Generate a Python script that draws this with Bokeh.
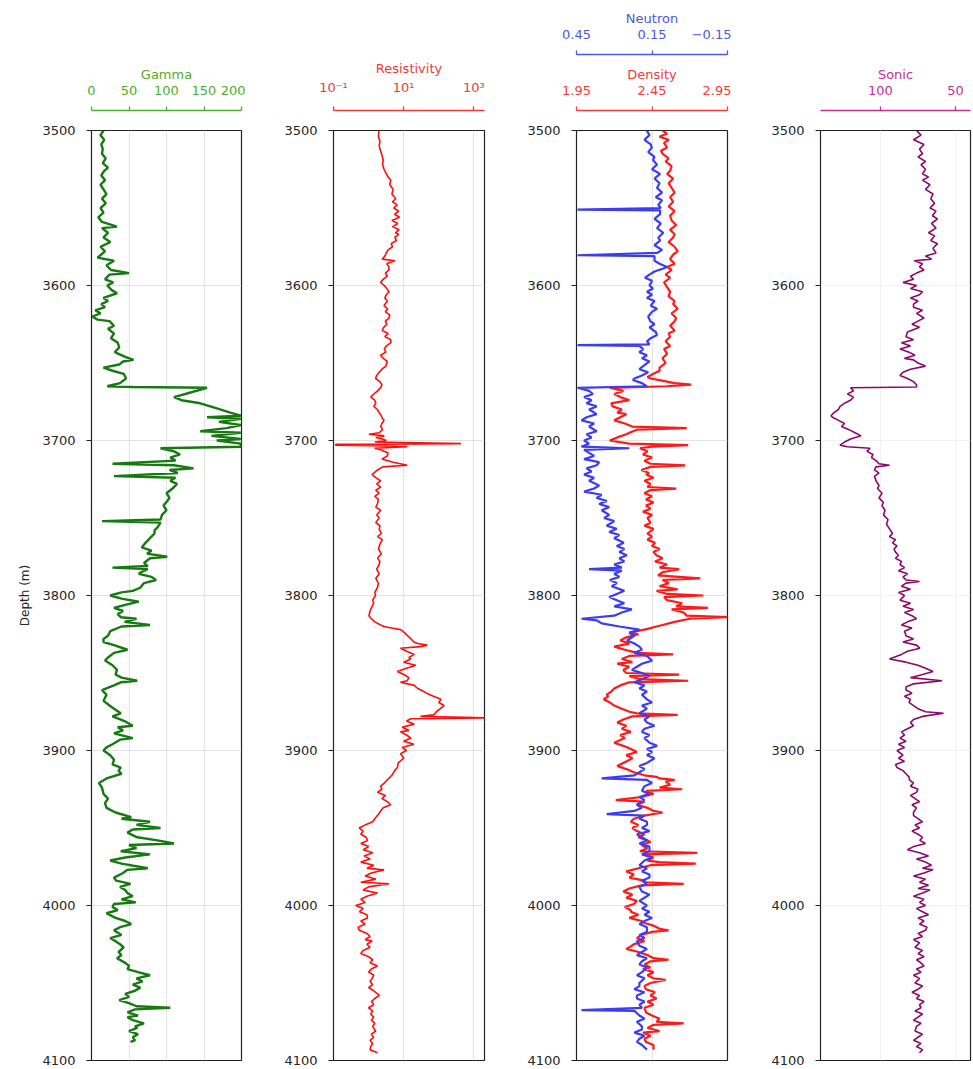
from bokeh.plotting import figure
from bokeh.layouts import row
from bokeh.models import Range1d, LinearAxis, LogAxis, FixedTicker, CustomJSTickFormatter
from bokeh.embed import file_html
from bokeh.resources import INLINE

# ---------------- data (depth m, value) ----------------
GAMMA = [
(3500,16),(3503,12),(3506,17),(3509,13),(3512,15),(3515,14),(3518,19),(3521,15),(3524,22),(3526,17),
(3529,13),(3532,18),(3535,12),(3538,16),(3541,20),(3544,14),(3547,19),(3550,12),(3553,16),(3556,9),
(3559,14),(3562,34),(3563,14),(3566,22),(3569,16),(3572,25),(3575,12),(3578,18),(3580,13),(3582,8),
(3584,30),(3587,20),(3590,26),(3592,50),(3593,24),(3596,18),(3598,29),(3600,21),(3603,27),(3605,34),
(3608,16),(3610,22),(3612,13),(3614,18),(3616,5),(3618,12),(3620,1),(3622,8),(3623,24),(3626,30),
(3628,22),(3631,30),(3634,26),(3637,35),(3640,37),(3643,31),(3646,45),(3648,56),(3649,42),(3651,37),
(3653,16),(3655,28),(3657,43),(3660,46),(3663,38),(3665,21),(3665.5,56),(3666,154),(3670,125),(3672,110),
(3674,120),(3676,145),(3679,165),(3682,185),(3684,199),(3685,154),(3686,199),(3688,170),(3690,199),(3692,180),
(3694,145),(3695,199),(3697,160),(3699,199),(3700,167),(3702,199),(3704,199),(3705,92),(3707,110),(3709,118),
(3711,105),(3713,112),(3715,28),(3716,110),(3718,136),(3719,104),(3721,115),(3723,30),(3724,112),(3726,105),
(3728,114),(3731,108),(3734,100),(3737,104),(3739,101),(3742,96),(3745,100),(3748,94),(3751,92),(3752,14),
(3753,92),(3756,88),(3758,84),(3760,84),(3763,78),(3766,72),(3769,67),(3771,80),(3773,74),(3775,101),
(3776,78),(3779,70),(3781,75),(3782,28),(3783,75),(3785,66),(3786,63),(3788,80),(3790,86),(3792,70),
(3795,65),(3797,55),(3798,40),(3800,25),(3802,40),(3804,63),(3806,45),(3808,30),(3810,42),(3812,35),
(3814,39),(3815,60),(3817,44),(3819,78),(3820,40),(3823,25),(3826,22),(3828,16),(3830,16),(3832,30),
(3835,48),(3837,30),(3840,22),(3842,18),(3845,28),(3848,34),(3851,32),(3853,40),(3855,61),(3856,39),
(3858,30),(3861,14),(3864,20),(3866,18),(3868,16),(3871,24),(3873,30),(3876,39),(3878,28),(3881,44),
(3884,55),(3885,35),(3887,42),(3889,30),(3892,55),(3893,38),(3896,28),(3898,20),(3900,16),(3903,25),
(3906,30),(3909,28),(3911,39),(3913,36),(3915,40),(3918,20),(3921,10),(3924,14),(3928,16),(3931,22),
(3934,18),(3937,20),(3940,32),(3943,53),(3944,40),(3946,78),(3948,60),(3950,92),(3951,55),(3953,48),
(3956,61),(3958,88),(3960,110),(3961,50),(3963,60),(3965,39),(3967,78),(3969,45),(3971,25),(3973,40),
(3976,75),(3977,48),(3979,42),(3982,30),(3984,33),(3986,52),(3988,38),(3990,45),(3992,48),(3994,55),
(3996,40),(3998,59),(3999,30),(4001,28),(4003,35),(4005,20),(4008,32),(4010,45),(4012,53),(4014,38),
(4016,30),(4019,40),(4021,25),(4023,32),(4025,38),(4027,43),(4030,36),(4032,40),(4034,34),(4037,45),
(4039,50),(4041,48),(4043,62),(4045,78),(4047,60),(4049,68),(4051,55),(4053,65),(4055,58),(4057,45),
(4059,50),(4061,37),(4063,50),(4065,60),(4066,105),(4067,58),(4069,48),(4071,62),(4072,48),(4074,55),
(4076,70),(4078,58),(4079,61),(4081,50),(4083,62),(4085,55),(4087,58),(4088,52),
]

RESISTIVITY = [
(3500,1.97),(3504,1.9),(3507,2.1),(3510,2.0),(3513,2.19),(3516,2.4),(3519,2.6),(3522,2.5),(3525,2.75),(3528,3.2),
(3530,3.6),(3532,4.27),(3535,4.0),(3538,5.0),(3541,4.6),(3544,5.9),(3546,4.8),(3548,6.5),(3550,5.2),(3552,7.2),
(3554,5.5),(3556,7.6),(3558,4.6),(3560,6.8),(3562,4.8),(3564,7.4),(3566,5.8),(3567,7.2),(3569,5.6),(3571,6.2),
(3573,4.4),(3575,4.8),(3577,3.6),(3579,3.2),(3581,2.9),(3583,2.45),(3584,5.6),(3586,3.3),(3588,3.8),(3590,3.8),
(3592,3.0),(3594,3.4),(3596,2.6),(3598,2.19),(3600,2.8),(3602,3.3),(3604,3.8),(3606,3.2),(3608,2.9),(3610,3.4),
(3613,2.75),(3615,3.5),(3617,3.0),(3619,4.0),(3621,3.8),(3623,3.0),(3625,3.3),(3627,2.7),(3629,2.45),(3631,3.6),
(3633,2.9),(3635,4.3),(3637,4.27),(3639,3.2),(3641,2.8),(3643,3.1),(3645,2.19),(3647,2.6),(3649,3.4),(3652,3.1),
(3654,2.4),(3656,2.0),(3658,1.7),(3660,1.58),(3662,2.1),(3664,2.4),(3666,2.19),(3668,1.8),(3670,1.4),(3672,1.15),
(3674,1.5),(3676,1.6),(3678,1.4),(3680,1.78),(3682,2.0),(3684,2.3),(3686,2.5),(3687,2.75),(3689,2.4),(3691,2.2),
(3693,2.5),(3695,2.0),(3696,1.02),(3697,2.8),(3698,1.6),(3699,2.45),(3700,3.2),(3701,1.5),(3702,427),(3702.5,0.115),
(3703,0.115),(3703.5,3.0),(3704,12.6),(3705,1.5),(3706,2.2),(3708,3.6),(3710,3.4),(3712,2.4),(3714,5.0),(3716,12.6),
(3717,2.5),(3719,1.8),(3721,1.4),(3722,1.26),(3724,1.6),(3726,2.2),(3728,1.7),(3730,2.19),(3732,1.6),(3734,2.0),
(3736,1.5),(3738,1.9),(3741,1.78),(3743,1.6),(3745,2.2),(3748,1.7),(3750,2.0),(3753,1.6),(3755,2.1),(3757,2.0),
(3760,2.3),(3762,1.8),(3764,2.45),(3767,2.1),(3770,1.9),(3773,2.3),(3776,1.8),(3778,2.1),(3780,2.0),(3783,1.7),
(3786,2.0),(3789,1.6),(3792,1.9),(3795,1.78),(3798,1.5),(3800,1.58),(3803,1.3),(3805,1.4),(3808,1.2),(3810,1.1),
(3813,1.02),(3815,1.2),(3817,1.5),(3819,2.2),(3820,2.75),(3821,4.5),(3822,8.1),(3824,10.5),(3826,13),(3828,16),
(3830,19.5),(3831,25),(3832,46.8),(3833,30),(3834,8.1),(3836,12),(3838,20),(3840,14),(3841,15.8),(3843,10),
(3845,22),(3847,12),(3849,6.6),(3851,10),(3853,14),(3855,12.6),(3856,8.1),(3858,20),(3860,25),(3861,31),
(3863,45),(3865,70),(3867,115),(3869,100),(3871,141),(3873,110),(3875,85),(3877,72),(3878,30),(3879,2500),
(3879.5,15.8),(3881,12),(3883,20),(3885,9),(3887,14),(3888,8.1),(3890,12),(3892,16),(3894,10),(3896,19.5),
(3898,9),(3900,12),(3902,8.1),(3905,10),(3908,7),(3911,6.6),(3913,5.5),(3916,4.6),(3919,3.4),(3921,2.8),
(3923,2.2),(3925,2.4),(3927,1.78),(3929,3.0),(3931,2.4),(3933,3.4),(3935,4.27),(3937,2.6),(3939,2.2),(3942,1.78),
(3944,1.5),(3946,1.3),(3948,0.8),(3950,0.54),(3952,0.7),(3954,0.6),(3956,0.85),(3958,0.93),(3960,0.6),(3962,1.0),
(3964,0.7),(3966,1.3),(3968,0.74),(3970,1.1),(3972,0.6),(3974,1.4),(3976,0.9),(3977,2.75),(3979,1.2),(3981,0.8),
(3983,1.6),(3985,0.6),(3986,3.8),(3988,1.0),(3990,0.7),(3992,1.78),(3994,0.9),(3996,0.6),(3998,0.8),(4000,0.43),
(4002,0.7),(4004,0.55),(4006,0.9),(4008,0.93),(4010,0.6),(4012,0.8),(4014,0.5),(4016,0.54),(4018,0.9),(4020,1.1),
(4022,0.8),(4023,1.26),(4025,0.9),(4027,1.1),(4029,0.7),(4031,0.6),(4033,1.0),(4035,1.3),(4037,1.1),(4039,1.78),
(4041,1.2),(4043,1.0),(4045,1.4),(4047,1.26),(4049,1.1),(4051,1.3),(4053,1.0),(4055,1.4),(4058,2.0),(4060,1.5),
(4062,1.2),(4064,1.4),(4066,1.0),(4068,1.3),(4070,1.15),(4072,1.4),(4074,1.2),(4076,1.5),(4078,1.3),(4081,1.58),
(4083,1.2),(4085,1.4),(4087,1.1),(4089,1.3),(4091,1.15),(4093,1.1),(4095,1.78),
]

DENSITY = [
(3500,2.52),(3502,2.55),(3504,2.50),(3506,2.56),(3508,2.53),(3511,2.55),(3513,2.51),(3515,2.52),(3518,2.56),(3520,2.54),
(3523,2.58),(3526,2.57),(3528,2.55),(3531,2.59),(3534,2.56),(3537,2.58),(3540,2.60),(3543,2.57),(3546,2.59),(3549,2.56),
(3552,2.60),(3555,2.57),(3558,2.58),(3561,2.61),(3564,2.57),(3567,2.60),(3569,2.59),(3572,2.56),(3575,2.60),(3578,2.62),
(3580,2.59),(3583,2.57),(3586,2.60),(3588,2.55),(3590,2.58),(3593,2.54),(3595,2.57),(3598,2.53),(3601,2.55),(3604,2.57),
(3607,2.56),(3610,2.60),(3612,2.59),(3615,2.62),(3618,2.58),(3621,2.61),(3623,2.60),(3626,2.57),(3629,2.60),(3631,2.56),
(3633,2.57),(3636,2.54),(3639,2.57),(3641,2.53),(3644,2.55),(3647,2.52),(3650,2.54),(3653,2.50),(3655,2.50),(3657,2.46),
(3659,2.42),(3660,2.44),(3661,2.50),(3663,2.60),(3664,2.71),(3665,2.55),(3666,2.17),(3668,2.26),(3670,2.20),(3672,2.24),
(3674,2.30),(3676,2.18),(3678,2.19),(3680,2.25),(3682,2.22),(3683,2.28),(3685,2.24),(3687,2.20),(3689,2.27),(3691,2.32),
(3692,2.68),(3693,2.35),(3695,2.30),(3696,2.28),(3698,2.22),(3700,2.17),(3702,2.30),(3703,2.69),(3704,2.45),(3705,2.37),
(3707,2.42),(3709,2.39),(3711,2.45),(3713,2.40),(3715,2.44),(3716,2.67),(3717,2.44),(3719,2.38),(3721,2.43),(3722,2.41),
(3724,2.46),(3726,2.40),(3728,2.44),(3730,2.42),(3731,2.61),(3732,2.44),(3734,2.40),(3736,2.45),(3738,2.41),(3740,2.46),
(3742,2.41),(3744,2.44),(3746,2.39),(3748,2.45),(3750,2.42),(3753,2.44),(3755,2.40),(3757,2.46),(3760,2.42),(3762,2.45),
(3764,2.42),(3766,2.47),(3768,2.45),(3770,2.50),(3772,2.46),(3774,2.48),(3776,2.52),(3778,2.47),(3780,2.55),(3782,2.50),
(3783,2.63),(3785,2.52),(3787,2.49),(3789,2.77),(3790,2.52),(3792,2.56),(3794,2.50),(3796,2.62),(3797,2.48),(3799,2.55),
(3800,2.79),(3801,2.53),(3803,2.55),(3805,2.65),(3807,2.61),(3808,2.82),(3809,2.58),(3811,2.66),(3813,2.68),(3814,2.95),
(3815,2.70),(3817,2.60),(3819,2.52),(3820,2.48),(3822,2.40),(3824,2.30),(3825,2.36),(3827,2.28),(3829,2.24),(3831,2.30),
(3833,2.20),(3835,2.27),(3837,2.35),(3838,2.59),(3839,2.30),(3841,2.25),(3843,2.32),(3844,2.22),(3846,2.30),(3848,2.26),
(3850,2.28),(3851,2.63),(3852,2.30),(3854,2.37),(3855,2.69),(3856,2.30),(3858,2.24),(3860,2.20),(3862,2.18),(3864,2.15),
(3865,2.16),(3867,2.13),(3869,2.17),(3871,2.20),(3873,2.25),(3875,2.30),(3876,2.35),(3877,2.62),(3878,2.32),(3880,2.26),
(3882,2.22),(3884,2.28),(3886,2.25),(3888,2.31),(3890,2.24),(3892,2.27),(3895,2.20),(3897,2.26),(3899,2.31),(3901,2.35),
(3903,2.28),(3905,2.32),(3908,2.26),(3910,2.22),(3912,2.28),(3914,2.33),(3916,2.40),(3917,2.48),(3918,2.50),(3919,2.60),
(3920,2.54),(3922,2.57),(3924,2.50),(3925,2.65),(3926,2.41),(3928,2.46),(3930,2.38),(3932,2.21),(3933,2.40),(3935,2.35),
(3937,2.42),(3939,2.46),(3940,2.52),(3942,2.40),(3944,2.33),(3946,2.31),(3948,2.36),(3950,2.32),(3952,2.35),(3954,2.40),
(3956,2.36),(3958,2.42),(3959,2.44),(3961,2.38),(3963,2.42),(3965,2.37),(3966,2.75),(3967,2.40),(3969,2.46),(3971,2.42),
(3972,2.50),(3973,2.74),(3974,2.44),(3976,2.36),(3978,2.28),(3980,2.33),(3982,2.30),(3984,2.40),(3985,2.41),(3986,2.66),
(3987,2.38),(3989,2.30),(3991,2.26),(3993,2.32),(3995,2.28),(3997,2.35),(3999,2.33),(4001,2.27),(4003,2.31),(4004,2.31),
(4006,2.36),(4008,2.30),(4010,2.38),(4011,2.39),(4013,2.46),(4015,2.50),(4016,2.56),(4017,2.45),(4019,2.38),(4021,2.35),
(4023,2.40),(4025,2.33),(4027,2.30),(4028,2.28),(4030,2.36),(4032,2.42),(4034,2.46),(4035,2.56),(4036,2.44),(4038,2.40),
(4040,2.44),(4041,2.39),(4043,2.46),(4045,2.42),(4047,2.46),(4048,2.54),(4050,2.44),(4052,2.40),(4054,2.41),(4056,2.47),
(4058,2.44),(4060,2.48),(4062,2.42),(4064,2.46),(4066,2.40),(4069,2.41),(4071,2.45),(4073,2.50),(4075,2.48),(4076,2.66),
(4077,2.46),(4079,2.42),(4081,2.50),(4082,2.39),(4084,2.44),(4086,2.40),(4088,2.41),(4090,2.46),(4093,2.46),
]

NEUTRON = [
(3500,0.171),(3503,0.16),(3506,0.18),(3509,0.155),(3511,0.151),(3514,0.165),(3517,0.14),(3519,0.146),(3522,0.13),(3525,0.15),
(3528,0.118),(3531,0.14),(3534,0.12),(3537,0.13),(3540,0.11),(3543,0.135),(3545,0.11),(3548,0.125),(3550,0.115),(3551,0.446),
(3551.5,0.118),(3554,0.118),(3557,0.14),(3560,0.115),(3563,0.13),(3566,0.105),(3569,0.125),(3571,0.118),(3574,0.14),(3577,0.11),
(3579,0.13),(3580.5,0.446),(3581,0.14),(3584,0.14),(3586,0.12),(3588,0.09),(3589,0.105),(3591,0.14),(3593,0.16),(3595,0.178),
(3597,0.15),(3600,0.16),(3602,0.146),(3604,0.17),(3606,0.15),(3608,0.17),(3610,0.14),(3613,0.155),(3615,0.13),(3617,0.15),
(3620,0.165),(3623,0.157),(3625,0.14),(3627,0.16),(3630,0.135),(3632,0.13),(3634,0.155),(3636,0.17),(3638,0.16),(3638.5,0.446),
(3639,0.2),(3641,0.185),(3643,0.2),(3645,0.17),(3647,0.19),(3649,0.16),(3652,0.185),(3654,0.20),(3656,0.165),(3658,0.19),
(3660,0.22),(3661,0.226),(3663,0.19),(3665,0.171),(3666,0.446),(3668,0.40),(3670,0.385),(3672,0.42),(3674,0.39),(3676,0.41),
(3678,0.37),(3680,0.40),(3683,0.37),(3685,0.41),(3687,0.43),(3689,0.38),(3691,0.40),(3694,0.37),(3696,0.41),(3698,0.39),
(3700,0.42),(3702,0.40),(3704,0.43),(3705,0.24),(3706,0.42),(3708,0.40),(3710,0.38),(3712,0.42),(3714,0.36),(3716,0.37),
(3718,0.41),(3720,0.39),(3722,0.42),(3724,0.38),(3726,0.40),(3729,0.36),(3731,0.38),(3733,0.42),(3735,0.35),(3737,0.37),
(3739,0.33),(3741,0.36),(3743,0.32),(3745,0.35),(3748,0.32),(3750,0.34),(3752,0.30),(3755,0.33),(3757,0.29),(3759,0.32),
(3761,0.28),(3763,0.30),(3766,0.262),(3768,0.29),(3770,0.26),(3772,0.28),(3774,0.25),(3776,0.28),(3778,0.26),(3780,0.30),
(3782,0.27),(3783,0.40),(3784,0.27),(3786,0.30),(3788,0.28),(3790,0.317),(3792,0.29),(3794,0.31),(3797,0.26),(3799,0.29),
(3801,0.32),(3803,0.29),(3805,0.26),(3807,0.30),(3809,0.23),(3811,0.27),(3813,0.30),(3815,0.43),(3816,0.37),(3818,0.35),
(3820,0.28),(3822,0.20),(3824,0.24),(3826,0.22),(3829,0.25),(3831,0.22),(3833,0.20),(3835,0.19),(3837,0.22),(3839,0.17),
(3842,0.15),(3844,0.19),(3846,0.21),(3848,0.23),(3850,0.19),(3852,0.16),(3854,0.19),(3856,0.22),(3858,0.18),(3860,0.20),
(3862,0.17),(3864,0.19),(3867,0.17),(3869,0.15),(3871,0.19),(3873,0.17),(3876,0.20),(3878,0.16),(3880,0.18),(3882,0.17),
(3884,0.14),(3886,0.18),(3888,0.19),(3890,0.16),(3892,0.18),(3895,0.16),(3897,0.13),(3899,0.17),(3901,0.15),(3903,0.17),
(3905,0.14),(3908,0.17),(3910,0.20),(3912,0.18),(3914,0.20),(3916,0.22),(3918,0.35),(3919,0.17),(3921,0.15),(3923,0.18),
(3926,0.19),(3928,0.16),(3930,0.20),(3932,0.18),(3935,0.21),(3937,0.19),(3939,0.22),(3941,0.33),(3942,0.18),(3944,0.20),
(3946,0.17),(3948,0.17),(3950,0.19),(3952,0.16),(3954,0.21),(3956,0.19),(3958,0.17),(3960,0.20),(3962,0.16),(3965,0.16),
(3967,0.19),(3969,0.15),(3971,0.18),(3974,0.20),(3976,0.17),(3978,0.19),(3980,0.16),(3982,0.16),(3984,0.19),(3986,0.17),
(3988,0.20),(3991,0.19),(3993,0.16),(3995,0.18),(3997,0.20),(4000,0.17),(4002,0.19),(4004,0.16),(4006,0.18),(4008,0.15),
(4010,0.18),(4012,0.20),(4014,0.17),(4017,0.17),(4019,0.20),(4021,0.18),(4023,0.21),(4026,0.20),(4028,0.17),(4030,0.19),
(4032,0.21),(4034,0.17),(4036,0.19),(4038,0.20),(4040,0.17),(4043,0.19),(4045,0.21),(4047,0.18),(4050,0.20),(4052,0.20),
(4054,0.22),(4056,0.18),(4058,0.21),(4060,0.21),(4062,0.18),(4064,0.20),(4066,0.19),(4067.5,0.43),(4068,0.22),(4071,0.20),
(4073,0.18),(4075,0.21),(4078,0.19),(4080,0.19),(4082,0.22),(4084,0.18),(4086,0.20),(4088,0.21),(4090,0.19),(4093,0.17),
]

SONIC = [
(3500,76),(3503,73),(3506,78),(3509,71),(3512,74),(3515,72),(3517,75),(3520,70),(3522,73),(3525,70),
(3528,72),(3530,68),(3532,72),(3535,67),(3538,70),(3541,65),(3544,66.5),(3547,64),(3550,67),(3552,63),
(3555,65.4),(3557,62),(3560,66),(3563,63),(3566,68),(3568,64),(3571,66.5),(3573,62),(3576,65),(3579,63),
(3581,70),(3583,66),(3584,77.5),(3586,72),(3588,74),(3590,71),(3592,76),(3594,80),(3596,78),(3598,85),
(3600,76),(3602,80),(3604,72),(3606,74),(3608,80),(3610,75),(3612,78),(3614,78),(3616,72),(3618,76),
(3621,71),(3623,75),(3625,79),(3627,74),(3630,82),(3633,83),(3635,78),(3637,86),(3639,80),(3641,87),
(3643,81),(3645,77),(3647,84),(3648,78),(3650,75),(3652,70),(3654,80),(3656,85),(3658,87),(3660,82),
(3662,78),(3664,76),(3665.5,76),(3666,120),(3668,118),(3670,122),(3672,118),(3674,120),(3676,124),(3678,127),
(3680,128),(3682,131),(3684,133),(3685,132),(3687,128),(3689,124),(3691,126),(3693,121),(3695,117),(3697,113),
(3699,120),(3701,124),(3703,127),(3704,122),(3705,107),(3707,109),(3709,105),(3711,106),(3713,103),(3715,101),
(3716,94),(3717,103),(3719,104),(3721,101),(3723,104),(3726,103),(3729,101),(3731,102),(3734,99),(3737,101),
(3740,98),(3742,99),(3745,97),(3748,98),(3751,95),(3754,96),(3757,94),(3760,92),(3762,94),(3764,90),
(3766,92),(3768,89),(3770,91),(3772,90),(3774,88),(3776,90),(3778,86),(3780,87),(3782,84),(3784,88),
(3786,82),(3788,85),(3790,83),(3791,74),(3792,83),(3794,86),(3796,80),(3798,88),(3800,84),(3803,87),
(3805,80),(3807,85),(3809,78),(3811,84),(3813,79),(3815,76),(3817,82),(3819,86),(3821,79),(3823,84),
(3826,83),(3828,78),(3830,85),(3832,76),(3834,73.8),(3836,82),(3838,86),(3841,94),(3843,83),(3845,75),
(3847,70),(3849,65),(3851,72),(3853,80),(3855,59),(3857,78),(3859,83),(3861,83),(3863,79),(3865,84),
(3867,80),(3869,81),(3871,78),(3873,75),(3875,70),(3876,58),(3878,72),(3880,78),(3882,80),(3884,78),
(3886,82),(3888,86),(3890,84),(3892,87),(3894,83),(3896,88),(3898,84),(3900,89),(3903,85),(3905,88),
(3907,84),(3909,90),(3911,89),(3913,85),(3915,83),(3917,81),(3919,80.7),(3921,78),(3923,80),(3925,75),
(3927,76),(3929,80),(3931,77),(3933,74),(3935,79),(3937,76),(3940,78),(3942,78),(3944,75),(3946,72),
(3948,77),(3950,74),(3952,79),(3954,75),(3956,72),(3958,73.8),(3960,70),(3962,78),(3964,82),(3966,74),
(3968,68),(3970,76),(3972,70),(3974,66),(3976,72),(3977,65),(3979,71),(3981,78),(3983,70),(3985,74),
(3987,68),(3989,75),(3990,67),(3992,72),(3994,78),(3996,71),(3998,74),(4000,70),(4002,76),(4004,72),
(4006,68),(4008,75),(4010,71),(4012,74),(4014,69),(4016,70),(4018,75),(4020,72),(4022,78),(4024,74),
(4027,77),(4029,72),(4031,75),(4033,71),(4035,76),(4037,73),(4039,71),(4041,76),(4043,73),(4045,78),
(4047,74),(4050,77),(4052,72),(4054,75),(4056,79),(4058,74),(4060,76),(4062,71),(4064,74),(4066,73),
(4068,77),(4070,72),(4072,75),(4074,78),(4076,73),(4078,76),(4081,77),(4083,72),(4085,75),(4087,78),
(4089,73),(4091,76),(4093,72),(4095,74),
]

DEPTH_TICKS = [3500, 3600, 3700, 3800, 3900, 4000, 4100]
GAMMA_TICKS = [0, 50, 100, 150, 200]
RES_TICKS = [0.1, 10, 1000]
DENS_TICKS = [1.95, 2.45, 2.95]
NEUT_TICKS = [0.45, 0.15, -0.15]
SONIC_TICKS = [100, 50]

FONT = "DejaVu Sans"


def unzip(pairs):
    return [a for a, _ in pairs], [b for _, b in pairs]


def spacer(font_px):
    # an empty axis whose invisible label reserves vertical space
    return LinearAxis(ticker=FixedTicker(ticks=[]), major_tick_out=0, major_tick_in=0,
                      axis_line_color=None, major_tick_line_color=None,
                      minor_tick_line_color=None, major_label_text_font_size="0px",
                      major_label_standoff=0, axis_label="I", axis_label_standoff=0,
                      axis_label_text_font_size=f"{font_px}px", axis_label_text_alpha=0.0)


def top_axis(label, color, ticks, range_name="default", log=False, formatter=None):
    cls = LogAxis if log else LinearAxis
    ax = cls(x_range_name=range_name, ticker=FixedTicker(ticks=ticks), axis_label=label)
    if formatter is not None:
        ax.formatter = formatter
    ax.axis_line_color = color
    ax.axis_line_width = 1.3
    ax.major_tick_line_color = color
    ax.major_tick_line_width = 1.3
    ax.major_tick_out = 4
    ax.major_tick_in = 0
    ax.minor_tick_line_color = None
    ax.major_label_text_color = color
    ax.major_label_text_font = FONT
    ax.major_label_text_font_size = "13px"
    ax.major_label_standoff = 12
    ax.axis_label_text_color = color
    ax.axis_label_text_font = FONT
    ax.axis_label_text_font_size = "13px"
    ax.axis_label_text_font_style = "normal"
    ax.axis_label_standoff = 1
    return ax


def track(x_range, left, right, fw, x_type="linear", grid_ticks=None, grid_color="#e3e3e3", first=False):
    p = figure(frame_width=fw, frame_height=930, x_range=x_range,
               y_range=Range1d(4100, 3500), x_axis_type=x_type,
               x_axis_location=None, y_axis_location="left",
               output_backend="svg", toolbar_location=None,
               min_border_left=left, min_border_right=right,
               min_border_top=130, min_border_bottom=8,
               background_fill_color="white", border_fill_color="white")
    p.outline_line_color = "#222222"
    p.outline_line_width = 1.2
    ya = p.yaxis[0]
    ya.ticker = FixedTicker(ticks=DEPTH_TICKS)
    ya.major_label_text_font = FONT
    ya.major_label_text_font_size = "13px"
    ya.major_label_text_color = "#262626"
    ya.major_tick_out = 5
    ya.major_tick_in = 0
    ya.major_tick_line_color = "#222222"
    ya.minor_tick_line_color = None
    ya.axis_line_color = "#222222"
    ya.major_label_standoff = 11
    if first:
        ya.axis_label = "Depth (m)"
        ya.axis_label_text_font = FONT
        ya.axis_label_text_font_size = "12px"
        ya.axis_label_text_font_style = "normal"
        ya.axis_label_text_color = "#262626"
        ya.axis_label_standoff = 7
    p.ygrid.ticker = FixedTicker(ticks=DEPTH_TICKS)
    p.ygrid.grid_line_color = grid_color
    p.xgrid.ticker = FixedTicker(ticks=grid_ticks or [])
    p.xgrid.grid_line_color = grid_color
    return p


# ---- Gamma ----
g_d, g_v = unzip(GAMMA)
p1 = track(Range1d(0, 200), 91, 4, 150, grid_ticks=GAMMA_TICKS, first=True)
p1.line(g_v, g_d, line_color="#177a10", line_width=2.4)
p1.add_layout(spacer(15.5), "above")
p1.add_layout(top_axis("Gamma", "#4fae2c", GAMMA_TICKS), "above")

# ---- Resistivity ----
r_d, r_v = unzip(RESISTIVITY)
sup_fmt = CustomJSTickFormatter(code="""
const e = Math.round(Math.log10(tick));
const m = {"-1": "10\u207b\u00b9", "1": "10\u00b9", "3": "10\u00b3"};
return m[String(e)] || "";
""")
p2 = track(Range1d(0.1, 2000), 88, 4, 151, x_type="log", grid_ticks=RES_TICKS)
p2.line(r_v, r_d, line_color="#ff0d0d", line_width=1.6)
p2.add_layout(spacer(15.5), "above")
p2.add_layout(top_axis("Resistivity", "#f03a3a", RES_TICKS, log=True, formatter=sup_fmt), "above")

# ---- Density / Neutron ----
d_d, d_v = unzip(DENSITY)
n_d, n_v = unzip(NEUTRON)
p3 = track(Range1d(1.95, 2.95), 88, 4, 151, grid_ticks=DENS_TICKS)
p3.extra_x_ranges = {"neut": Range1d(0.45, -0.15)}
p3.line(d_v, d_d, line_color="#ff1a1a", line_width=2.2)
p3.line(n_v, n_d, line_color="#3c3cf2", line_width=2.2, x_range_name="neut")
p3.add_layout(spacer(15.5), "above")
p3.add_layout(top_axis("Density", "#f03c3c", DENS_TICKS), "above")
p3.add_layout(spacer(5.5), "above")
p3.add_layout(top_axis("Neutron", "#4a58e4", NEUT_TICKS, range_name="neut"), "above")

# ---- Sonic ----
s_d, s_v = unzip(SONIC)
p4 = track(Range1d(140, 40), 89, 2, 150, grid_ticks=SONIC_TICKS, grid_color="#f1f1f1")
p4.line(s_v, s_d, line_color="#8a0a68", line_width=1.6)
p4.add_layout(spacer(15.5), "above")
p4.add_layout(top_axis("Sonic", "#c22f97", SONIC_TICKS), "above")

layout = row(p1, p2, p3, p4, spacing=0)
open("out.html", "w").write(file_html(layout, INLINE))
